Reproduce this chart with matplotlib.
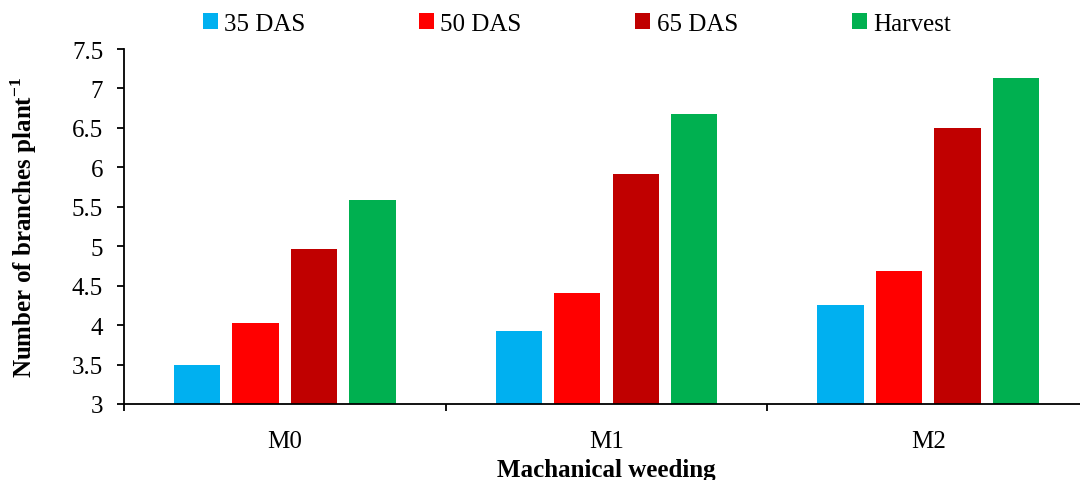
import matplotlib
matplotlib.use("Agg")
import matplotlib.pyplot as plt
import numpy as np

categories = ["M0", "M1", "M2"]
series_names = ["35 DAS", "50 DAS", "65 DAS", "Harvest"]
das35 = [3.50, 3.93, 4.25]
das50 = [4.03, 4.41, 4.69]
das65 = [4.96, 5.91, 6.50]
harvest = [5.58, 6.67, 7.13]
colors = ["#00B0F0", "#FF0000", "#C00000", "#00B050"]

plt.rcParams['font.family'] = ['Liberation Serif', 'DejaVu Serif']
plt.rcParams['mathtext.fontset'] = 'custom'
plt.rcParams['mathtext.rm'] = 'Liberation Serif'
plt.rcParams['mathtext.bf'] = 'Liberation Serif:bold'

fig = plt.figure(figsize=(10.8, 4.81), dpi=100)
ax = fig.add_axes([124/1080, 1-405/481, (1089-124)/1080, (405-50)/481])

x = np.arange(len(categories))
width = 0.144
step = 0.182
series = [das35, das50, das65, harvest]
handles = []
for i, (vals, name, c) in enumerate(zip(series, series_names, colors)):
    b = ax.bar(x + (i - 1.5) * step, vals, width, bottom=0, color=c, label=name, zorder=2)
    handles.append(b)

ax.set_ylim(3, 7.5)
ax.set_xlim(-0.5, 2.5)
ax.set_yticks([3, 3.5, 4, 4.5, 5, 5.5, 6, 6.5, 7, 7.5])
ax.set_yticklabels(["3", "3.5", "4", "4.5", "5", "5.5", "6", "6.5", "7", "7.5"])
ax.set_xticks(x)
ax.set_xticklabels(categories)
ax.set_xticks([-0.5, 0.5, 1.5, 2.5], minor=True)
ax.tick_params(axis='x', which='major', length=0, pad=19, labelsize=18)
ax.tick_params(axis='x', which='minor', length=5, width=1.3, direction='out')
ax.tick_params(axis='y', length=5, width=1.3, direction='out', pad=10, labelsize=18)
for s in ['top', 'right']:
    ax.spines[s].set_visible(False)
for s in ['left', 'bottom']:
    ax.spines[s].set_linewidth(1.3)

ax.set_ylabel("Number of branches plant$^{\\mathbf{-1}}$", fontsize=18, fontweight='bold', labelpad=24)
ax.set_xlabel("Machanical weeding", fontsize=18, fontweight='bold', labelpad=4)

fig.legend(handles=handles, labels=series_names, loc='center', bbox_to_anchor=(0.534, 1-25/481),
           ncol=4, frameon=False, fontsize=18, handlelength=0.6, handleheight=0.6,
           handletextpad=0.25, columnspacing=4.55)

fig.savefig("out.png", dpi=100)
